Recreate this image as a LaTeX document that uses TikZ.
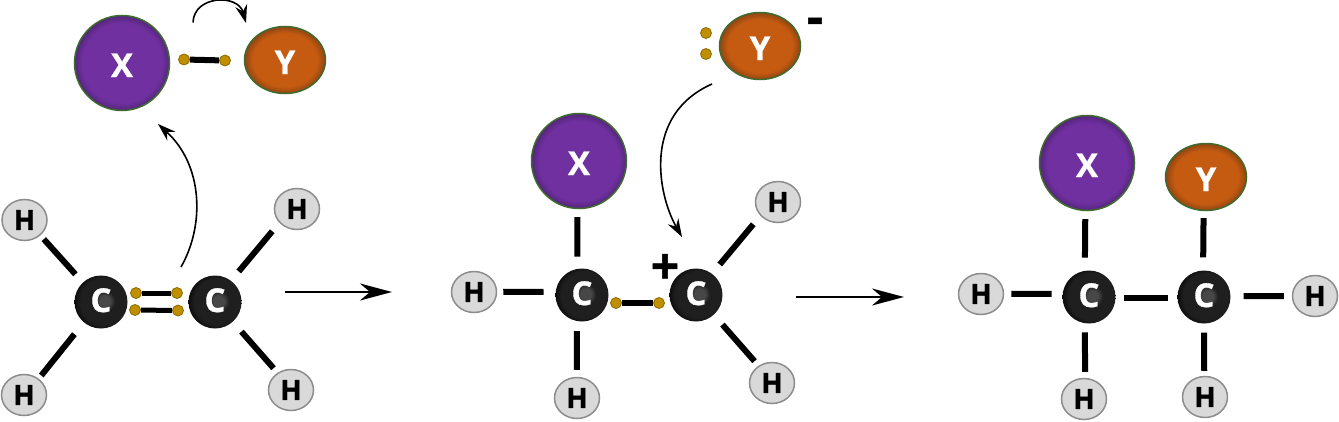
\documentclass[tikz,border=0pt]{standalone}
\usepackage{fontspec}
\setmainfont{Open Sans}[BoldFeatures={FakeBold=1}]
\usetikzlibrary{shapes.geometric,arrows.meta}
\definecolor{xfill}{HTML}{7030A0}
\definecolor{xedge}{HTML}{53267A}
\definecolor{yfill}{HTML}{C55A11}
\definecolor{yedge}{HTML}{8F4512}
\definecolor{rim}{HTML}{3F6B2F}
\definecolor{hfill}{HTML}{D9D9D9}
\definecolor{hline}{HTML}{8C8C8C}
\definecolor{dotfill}{HTML}{BF8F00}
\definecolor{dotline}{HTML}{8A6A00}
\pgfdeclareradialshading{xshade}{\pgfpointorigin}{color(0bp)=(xfill); color(21bp)=(xfill); color(25bp)=(xedge); color(50bp)=(xedge)}
\pgfdeclareradialshading{yshade}{\pgfpointorigin}{color(0bp)=(yfill); color(20bp)=(yfill); color(25bp)=(yedge); color(50bp)=(yedge)}
\pgfdeclareradialshading{cshade}{\pgfqpoint{4bp}{1bp}}{color(0bp)=(black!72); color(5bp)=(black!72); color(10bp)=(black!88); color(22bp)=(black!88); color(27bp)=(black!95); color(50bp)=(black!95)}
\tikzset{
  xatom/.style={circle,draw=rim,line width=1.5bp,shading=xshade,minimum size=95bp,inner sep=0pt,text=white,text height=28bp,text depth=0bp,font=\fontsize{33}{33}\selectfont\bfseries},
  yatom/.style={ellipse,draw=rim,line width=1.5bp,shading=yshade,minimum width=81bp,minimum height=67bp,inner sep=0pt,text=white,text height=28bp,text depth=0bp,font=\fontsize{33}{33}\selectfont\bfseries},
  catom/.style={circle,shading=cshade,minimum size=53bp,inner sep=0pt,text=white,text height=24bp,text depth=4bp,font=\fontsize{33}{33}\selectfont\bfseries},
  hatom/.style={ellipse,draw=hline,fill=hfill,line width=1.5bp,minimum width=45bp,minimum height=41bp,inner sep=0pt,font=\fontsize{28}{28}\selectfont\bfseries},
  edot/.style={circle,draw=dotline,fill=dotfill,line width=.8bp,minimum size=11bp,inner sep=0pt},
  bond/.style={line width=6bp},
  charge/.style={inner sep=0pt,font=\fontsize{50}{50}\selectfont\bfseries},
}
\begin{document}
\begin{tikzpicture}[>={Stealth[length=18bp,width=12bp,inset=6bp]},x=1bp,y=1bp]
  \useasboundingbox (0,0) rectangle (1339,421);
%%
  % Node: left molecule
  \node [xatom] (X_1) at (122,358) {X};
  \node [yatom] (Y_1) at (285,361) {Y};
  \node [catom] (C_1) at (101,119) {C};
  \node [catom] (C_2) at (215,119) {C};
  \node [hatom] (H_1) at (24.5,201) {H};
  \node [hatom] (H_2) at (24,26) {H};
  \node [hatom] (H_3) at (297,212) {H};
  \node [hatom] (H_4) at (291,31) {H};
  \node [edot] (E_1) at (184,361.5) {};
  \node [edot] (E_2) at (225,360.5) {};
  \node [edot] (E_3) at (136,128) {};
  \node [edot] (E_4) at (177,128) {};
  \node [edot] (E_5) at (135,111) {};
  \node [edot] (E_6) at (178,110.5) {};
  % Edge: left bonds
  \draw [bond,shorten <=5bp,shorten >=11bp] (H_1.316) -- (C_1.133);
  \draw [bond,shorten <=4bp,shorten >=15bp] (H_2.48) -- (C_1.230);
  \draw [bond,shorten <=11bp,shorten >=12bp] (H_3.218) -- (C_2.53);
  \draw [bond,shorten <=6bp,shorten >=13bp] (H_4.128) -- (C_2.312);
  \draw [bond] (E_1) -- (E_2);
  \draw [bond,line width=5bp] (E_3) -- (E_4);
  \draw [bond,line width=5bp] (E_5) -- (E_6);
  % Node: middle molecule
  \node [xatom] (X_2) at (579,260) {X};
  \node [yatom] (Y_2) at (760,375) {Y};
  \node [catom] (C_3) at (582,126) {C};
  \node [catom] (C_4) at (696,126) {C};
  \node [hatom] (H_5) at (474,129) {H};
  \node [hatom] (H_6) at (577,23) {H};
  \node [hatom] (H_7) at (778,219) {H};
  \node [hatom] (H_8) at (772,38) {H};
  \node [edot] (E_7) at (706,388) {};
  \node [edot] (E_8) at (706,367) {};
  \node [edot] (E_9) at (616,118) {};
  \node [edot] (E_10) at (659,118) {};
  \node [charge] (Plus) at (665,152) {+};
  \node [charge] (Minus) at (815,395) {-};
  % Edge: middle bonds
  \draw [bond,shorten <=6bp,shorten >=12bp] (H_5.east) -- (C_3.173);
  \draw [bond,shorten <=7bp,shorten >=10bp] (H_6.north) -- (C_3.259);
  \draw [bond,shorten <=8bp,shorten >=12bp] (X_2.268) -- (C_3.100);
  \draw [bond,shorten <=11bp,shorten >=12bp] (H_7.218) -- (C_4.53);
  \draw [bond,shorten <=6bp,shorten >=13bp] (H_8.128) -- (C_4.312);
  \draw [bond] (E_9) -- (E_10);
  % Node: right molecule
  \node [xatom] (X_3) at (1087,258) {X};
  \node [yatom] (Y_3) at (1206,244) {Y};
  \node [catom] (C_5) at (1089,124) {C};
  \node [catom] (C_6) at (1204,124) {C};
  \node [hatom] (H_9) at (981,127) {H};
  \node [hatom] (H_10) at (1315,125) {H};
  \node [hatom] (H_11) at (1084,22) {H};
  \node [hatom] (H_12) at (1205,24) {H};
  % Edge: right bonds
  \draw [bond,shorten <=7bp,shorten >=11bp] (H_9.east) -- (C_5.173);
  \draw [bond,shorten <=8bp,shorten >=13bp] (X_3.268) -- (C_5.99);
  \draw [bond,shorten <=7bp,shorten >=13bp] (Y_3.266) -- (C_6.92);
  \draw [bond,shorten <=8bp,shorten >=9bp] (C_5.-2) -- (C_6.182);
  \draw [bond,shorten <=8bp,shorten >=13bp] (H_10.west) -- (C_6.2);
  \draw [bond,shorten <=6bp,shorten >=9bp] (H_11.87) -- (C_5.261);
  \draw [bond,shorten <=5bp,shorten >=9bp] (H_12.92) -- (C_6.270);
  % Edge: reaction arrows
  \coordinate (R_1a) at (285,129);
  \coordinate (R_1b) at (392,129);
  \coordinate (R_2a) at (796,124);
  \coordinate (R_2b) at (904,124);
  \draw [->,line width=1.4bp,>={Stealth[length=32bp,width=17bp,inset=10bp]}] (R_1a) -- (R_1b);
  \draw [->,line width=1.4bp,>={Stealth[length=32bp,width=17bp,inset=10bp]}] (R_2a) -- (R_2b);
  % Edge: electron shifts
  \coordinate (S_1a) at (193,398.5);
  \coordinate (S_1b) at (246,398);
  \coordinate (S_2a) at (181,154);
  \coordinate (S_2b) at (158,297);
  \coordinate (S_3a) at (712,337);
  \coordinate (S_3b) at (682,184);
  \draw [->,line width=1.6bp] (S_1a) .. controls (194,426) and (238,427) .. (S_1b);
  \draw [->,line width=1.6bp] (S_2a) .. controls (205,196) and (203,256) .. (S_2b);
  \draw [->,line width=1.6bp] (S_3a) .. controls (642,306) and (658,226) .. (S_3b);
%
\end{tikzpicture}
\end{document}
